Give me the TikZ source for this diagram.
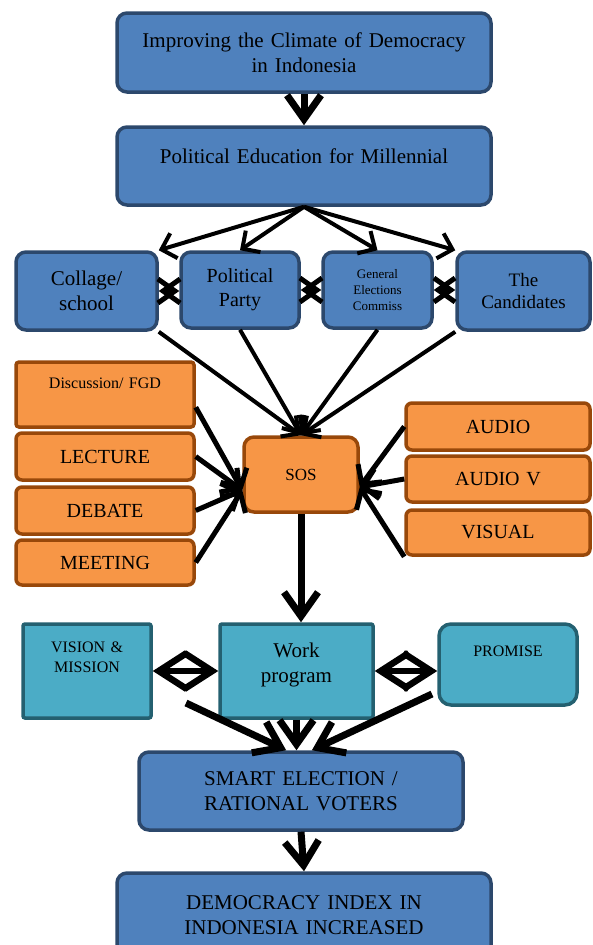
\documentclass[tikz,border=0pt]{standalone}
\usepackage{fontspec}
\setmainfont{Liberation Serif}
\usetikzlibrary{shapes, arrows, arrows.meta}
\definecolor{boxblue}{RGB}{79,129,189}
\definecolor{lineblue}{RGB}{44,72,108}
\definecolor{boxorange}{RGB}{247,150,70}
\definecolor{lineorange}{RGB}{152,72,10}
\definecolor{boxteal}{RGB}{75,172,198}
\definecolor{lineteal}{RGB}{36,96,112}

\begin{document}
\begin{tikzpicture}[x=1pt, y=-1pt,
    box/.style={line width=3.5pt, inner sep=0pt, align=center, text width=#1},
    bluebox/.style={box=#1, draw=lineblue, fill=boxblue, rounded corners=10pt, font=\fontsize{21}{25}\selectfont},
    orangebox/.style={box=#1, draw=lineorange, fill=boxorange, rounded corners=6pt, font=\fontsize{20}{24}\selectfont},
    tealbox/.style={box=#1, draw=lineteal, fill=boxteal, rounded corners=2pt, font=\fontsize{16}{20}\selectfont},
    bigarr/.style={line width=7pt, -{Straight Barb[length=24pt, width=34pt]}},
    midarr/.style={line width=5pt, -{Straight Barb[length=14pt, width=30pt]}},
    thinarr/.style={line width=4pt, -{Straight Barb[length=13pt, width=26pt]}},
    crossarr/.style={line width=5pt, {Straight Barb[length=17pt, width=24pt]}-{Straight Barb[length=17pt, width=24pt]}},
    twoway/.style={line width=6.5pt, {Straight Barb[length=28pt, width=36pt]}-{Straight Barb[length=28pt, width=36pt]}}]
    \useasboundingbox (0,0) rectangle (593,945);

    \node[bluebox=374pt, minimum height=79pt] (n0) at (304,52.5) {Improving the Climate of Democracy\\in Indonesia};
    \node[bluebox=374pt, text height=36pt, text depth=42pt] (n1) at (304,166) {Political Education for Millennial};

    \node[bluebox=141pt, minimum height=78pt] (n2) at (86.5,291) {Collage/\\school};
    \node[bluebox=118pt, minimum height=76pt, font=\fontsize{20}{24}\selectfont] (n3) at (240,290) {Political\\Party};
    \node[bluebox=109pt, minimum height=76pt, font=\fontsize{13}{16}\selectfont] (n4) at (377.5,290) {General\\Elections\\Commiss};
    \node[bluebox=133pt, minimum height=78pt, font=\fontsize{19}{22}\selectfont] (n5) at (523.5,291) {The\\Candidates};

    \node[orangebox=114pt, minimum height=75pt, rounded corners=10pt, font=\fontsize{17}{20}\selectfont] (n6) at (301,474.5) {SOS};
    \node[orangebox=178pt, text height=26pt, text depth=39pt, rounded corners=3pt, font=\fontsize{16}{20}\selectfont] (n7) at (105,394.5) {Discussion/ FGD};
    \node[orangebox=178pt, minimum height=47pt] (n8) at (105,456.5) {LECTURE};
    \node[orangebox=178pt, minimum height=47pt] (n9) at (105,510.5) {DEBATE};
    \node[orangebox=178pt, minimum height=45pt] (n10) at (105,562.5) {MEETING};
    \node[orangebox=184pt, minimum height=47pt] (n11) at (498,426.5) {AUDIO};
    \node[orangebox=184pt, minimum height=46pt] (n12) at (498,479) {AUDIO V};
    \node[orangebox=184pt, minimum height=45pt] (n13) at (498,532.5) {VISUAL};

    \node[tealbox=128pt, text height=28pt, text depth=66pt] (n14) at (87,671) {VISION \&\\MISSION};
    \node[tealbox=153pt, text height=33pt, text depth=61pt, font=\fontsize{21}{25}\selectfont] (n15) at (296.5,671) {Work\\program};
    \node[tealbox=138pt, text height=32pt, text depth=49pt, rounded corners=12pt] (n16) at (508,664.5) {PROMISE};

    \node[bluebox=324pt, minimum height=78pt] (n17) at (301,791) {SMART ELECTION /\\RATIONAL VOTERS};
    \node[bluebox=374pt, text height=36pt, text depth=56pt] (n18) at (304,919) {DEMOCRACY INDEX IN\\INDONESIA INCREASED};

    \coordinate (c1) at (186,703);
    \coordinate (c2) at (432,694);

    \draw[bigarr] (n0.south) -- (n1.north);
    \draw[thinarr] (n1.south) -- (n2.north east);
    \draw[thinarr] (n1.south) -- (n3.north);
    \draw[thinarr] (n1.south) -- (n4.north);
    \draw[thinarr] (n1.south) -- (n5.north west);
    \draw[crossarr] (n2.east) -- (n2.east -| n3.west);
    \draw[crossarr] (n3.east) -- (n3.east -| n4.west);
    \draw[crossarr] (n4.east) -- (n4.east -| n5.west);

    \draw[thinarr] (n2.south east) -- (n6.north);
    \draw[thinarr] (n3.south) -- (n6.north);
    \draw[thinarr] (n4.south) -- (n6.north);
    \draw[thinarr] (n5.south west) -- (n6.north);

    \draw[midarr] (n7.-8) -- (n6.195);
    \draw[midarr] (n8.east) -- (n6.195);
    \draw[midarr] (n9.east) -- (n6.195);
    \draw[midarr] (n10.east) -- (n6.195);
    \draw[midarr] (n11.west) -- (n6.-12);
    \draw[midarr] (n12.west) -- (n6.-12);
    \draw[midarr] (n13.south west) -- (n6.-12);

    \draw[bigarr] (n6.south) -- (n6.south |- n15.north);
    \draw[twoway] (n14.east) -- (n15.west);
    \draw[twoway] (n15.east) -- (n15.east -| n16.west);

    \draw[bigarr] (c1) -- (n17.110);
    \draw[bigarr] (n15.south) -- (n15.south |- n17.north);
    \draw[bigarr] (c2) -- (n17.75);
    \draw[bigarr] (n17.south) -- (n18.north);
\end{tikzpicture}
\end{document}
